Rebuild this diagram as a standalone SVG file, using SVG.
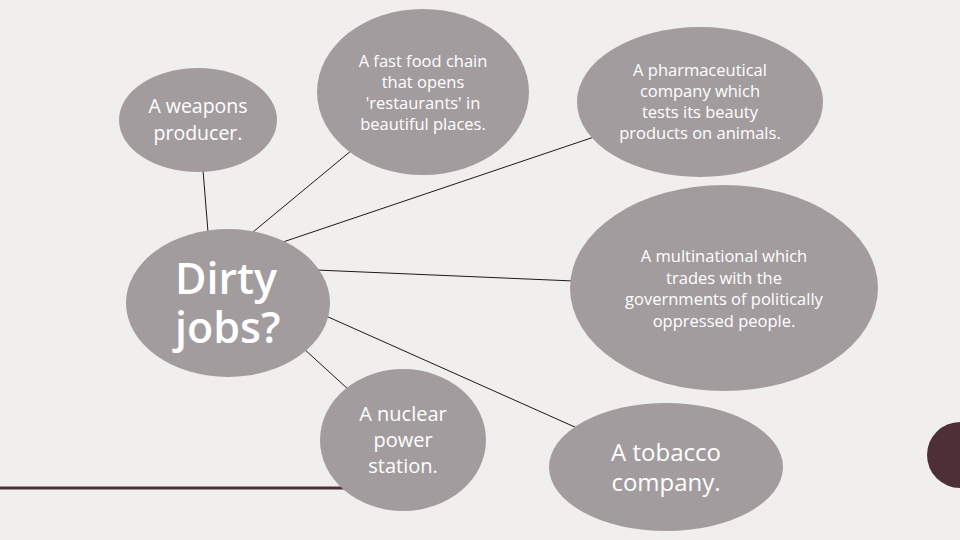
<svg xmlns="http://www.w3.org/2000/svg" width="960" height="540" viewBox="0 0 960 540">
<style>
.node{fill:#a39c9f}
.t{fill:#ffffff;font-family:"Open Sans","Noto Sans",sans-serif;text-anchor:middle}
.conn line{stroke:#1a1a1a;stroke-width:1}
</style>
<rect x="0" y="0" width="960" height="540" fill="#f1efed"/>
<rect x="0" y="486.5" width="345" height="3" fill="#4f2f37"/>
<circle cx="960" cy="455" r="33" fill="#4f2f37"/>
<g id="connectors" class="conn">
<line x1="203" y1="170" x2="208" y2="232"/>
<line x1="352" y1="150" x2="253" y2="232"/>
<line x1="594" y1="137" x2="283" y2="242"/>
<line x1="316" y1="270" x2="574" y2="281"/>
<line x1="303" y1="348" x2="349" y2="390"/>
<line x1="326" y1="316" x2="577" y2="428"/>
</g>
<g id="weapons">
<ellipse class="node" cx="198" cy="120" rx="79" ry="52"/>
<text class="t" font-size="19.5"><tspan x="198" y="113">A weapons</tspan><tspan x="198" y="140">producer.</tspan></text>
</g>
<g id="dirty">
<ellipse class="node" cx="228" cy="303" rx="102" ry="74"/>
<text class="t" font-size="43" font-weight="600" style="text-anchor:start" x="175" y="294">Dirty</text>
<text class="t" font-size="43" font-weight="600" style="text-anchor:start" x="175" y="343">jobs?</text>
</g>
<g id="fastfood">
<ellipse class="node" cx="423" cy="92" rx="106" ry="83"/>
<text class="t" font-size="16.5"><tspan x="423" y="67">A fast food chain</tspan><tspan x="423" y="88">that opens</tspan><tspan x="423" y="109">'restaurants' in</tspan><tspan x="423" y="130">beautiful places.</tspan></text>
</g>
<g id="pharma">
<ellipse class="node" cx="700" cy="102" rx="123" ry="75"/>
<text class="t" font-size="16.5"><tspan x="700" y="76">A pharmaceutical</tspan><tspan x="700" y="97">company which</tspan><tspan x="700" y="118">tests its beauty</tspan><tspan x="700" y="139">products on animals.</tspan></text>
</g>
<g id="multinational">
<ellipse class="node" cx="724" cy="288" rx="154" ry="103"/>
<text class="t" font-size="16.5"><tspan x="724" y="262">A multinational which</tspan><tspan x="724" y="284">trades with the</tspan><tspan x="724" y="305">governments of politically</tspan><tspan x="724" y="327">oppressed people.</tspan></text>
</g>
<g id="nuclear">
<ellipse class="node" cx="403" cy="440" rx="83" ry="71"/>
<text class="t" font-size="20"><tspan x="403" y="421">A nuclear</tspan><tspan x="403" y="447">power</tspan><tspan x="403" y="473">station.</tspan></text>
</g>
<g id="tobacco">
<ellipse class="node" cx="666" cy="467" rx="117" ry="64"/>
<text class="t" font-size="24"><tspan x="666" y="461">A tobacco</tspan><tspan x="666" y="491">company.</tspan></text>
</g>
</svg>
